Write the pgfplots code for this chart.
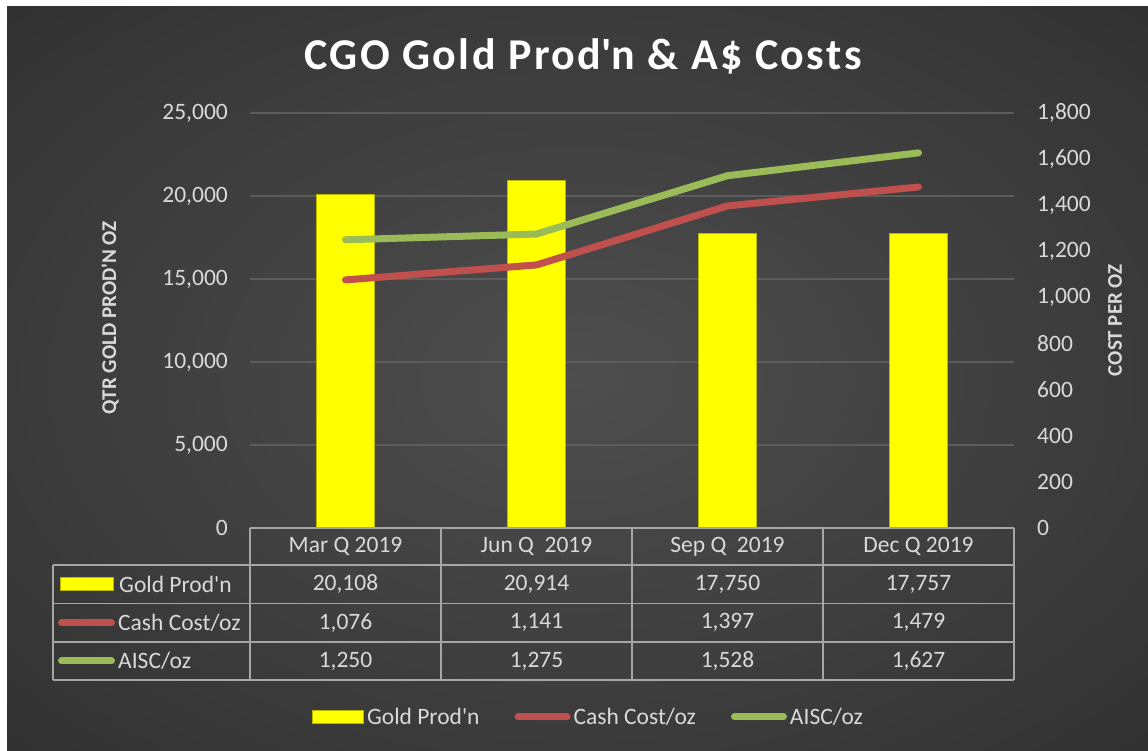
\documentclass[border=0pt]{standalone}
\usepackage{fontspec}
\setmainfont{Carlito}
\usepackage{pgfplots}
\usepackage{pgfplotstable}
\pgfplotsset{compat=1.18}

\definecolor{bgin}{HTML}{4E4E4E}
\definecolor{bgout}{HTML}{262626}
\definecolor{gridc}{HTML}{5C5C5C}
\definecolor{txt}{HTML}{D9D9D9}
\definecolor{tabline}{HTML}{A6A6A6}
\definecolor{cashc}{HTML}{C0504D}
\definecolor{aiscc}{HTML}{9BBB59}
\definecolor{goldc}{HTML}{FFFF00}
\definecolor{goldedge}{HTML}{B8B800}

\pgfdeclareradialshading{bgshade}{\pgfpoint{0bp}{0bp}}{color(0bp)=(bgin); color(50bp)=(bgout); color(72bp)=(bgout)}

\pgfplotstableread{
x gold cash aisc
0 20108 1076 1250
1 20914 1141 1275
2 17750 1397 1528
3 17757 1479 1627
}\datatable

\newcommand{\tickfont}{\fontsize{23.5}{28}\selectfont}
\newcommand{\q}{\textquotesingle}

\begin{document}
\begin{tikzpicture}[x=1pt,y=1pt]
\fill[white] (0,0) rectangle (1148,751);
\shade[shading=bgshade] (7,0) rectangle (1148,744);

% title
\node[anchor=base, text=white, font=\bfseries\fontsize{44}{52}\selectfont\addfontfeatures{LetterSpace=5.6}] at (583,681) {CGO Gold Prod\q n \& A\$ Costs};

\begin{axis}[
  at={(250pt,223pt)}, anchor=south west, scale only axis,
  width=764pt, height=415pt,
  xmin=-0.5, xmax=3.5, ymin=0, ymax=25000,
  axis x line=none, axis y line*=left,
  y axis line style={draw=none},
  major tick length=0pt,
  ytick={0,5000,...,25000}, xtick=\empty,
  scaled y ticks=false,
  ymajorgrids, grid style={gridc, line width=1.5pt},
  /pgf/number format/1000 sep={,},
  /pgf/number format/assume math mode=true,
  yticklabel style={font=\tickfont, text=txt, inner sep=0pt, anchor=east, xshift=-22pt},
  ylabel={QTR GOLD PROD\q N OZ},
  ylabel style={at={(axis description cs:-0.1830,0.507)}, anchor=center, text=txt, font=\bfseries\fontsize{21}{25}\selectfont},
]
\addplot[ybar, bar width=58pt, fill=goldc, draw=goldedge, line width=1pt] table[x=x,y=gold]{\datatable};
\end{axis}

\begin{axis}[
  at={(250pt,223pt)}, anchor=south west, scale only axis,
  width=764pt, height=415pt,
  xmin=-0.5, xmax=3.5, ymin=0, ymax=1800,
  axis x line=none, axis y line*=right,
  y axis line style={draw=none},
  major tick length=0pt,
  ytick={0,200,...,1800}, xtick=\empty,
  scaled y ticks=false,
  /pgf/number format/1000 sep={,},
  /pgf/number format/assume math mode=true,
  yticklabel style={font=\tickfont, text=txt, inner sep=0pt, anchor=west, xshift=23pt},
  ylabel={COST PER OZ},
  ylabel style={at={(axis description cs:1.1322,0.501)}, anchor=center, rotate=0, text=txt, font=\bfseries\fontsize{21}{25}\selectfont},
  legend columns=3,
  legend style={at={(axis description cs:0.4437,-0.4554)}, anchor=center, draw=none, fill=none,
    font=\tickfont, text=txt, column sep=0pt,
    /tikz/every even column/.append style={column sep=32pt},
    nodes={inner sep=3pt}},
]
\addlegendimage{legend image code/.code={\draw[fill=goldc, draw=goldedge, line width=1pt] (0pt,-6.5pt) rectangle (51pt,6.5pt);}}
\addlegendentry{Gold Prod\q n}
\addplot[cashc, line width=7pt, line join=round, line cap=round,
  legend image code/.code={\draw[cashc, line width=7pt, line cap=round] (3.5pt,0pt) -- (52.5pt,0pt);}]
  table[x=x,y=cash]{\datatable};
\addlegendentry{Cash Cost/oz}
\addplot[aiscc, line width=7pt, line join=round, line cap=round,
  legend image code/.code={\draw[aiscc, line width=7pt, line cap=round] (3.5pt,0pt) -- (52.5pt,0pt);}]
  table[x=x,y=aisc]{\datatable};
\addlegendentry{AISC/oz}
\end{axis}

% data table
\begin{scope}[draw=tabline, line width=1.5pt]
\draw (250,223) -- (1014,223);
\draw (53,186) -- (1014,186);
\draw (53,147.5) -- (1014,147.5);
\draw (53,109) -- (1014,109);
\draw (53,71) -- (1014,71);
\foreach \xx in {250,441,632,823,1014} \draw (\xx,223) -- (\xx,71);
\draw (53,186) -- (53,71);
\end{scope}

\begin{scope}[font=\tickfont, text=txt]
\node at (345.5,204.5) {Mar Q 2019};
\node at (536.5,204.5) {Jun Q~~2019};
\node at (727.5,204.5) {Sep Q~~2019};
\node at (918.5,204.5) {Dec Q 2019};
\node at (345.5,166.75) {20,108};
\node at (536.5,166.75) {20,914};
\node at (727.5,166.75) {17,750};
\node at (918.5,166.75) {17,757};
\node at (345.5,128.25) {1,076};
\node at (536.5,128.25) {1,141};
\node at (727.5,128.25) {1,397};
\node at (918.5,128.25) {1,479};
\node at (345.5,90) {1,250};
\node at (536.5,90) {1,275};
\node at (727.5,90) {1,528};
\node at (918.5,90) {1,627};
\node[anchor=west, inner sep=0pt] at (119,166.75) {Gold Prod\q n};
\node[anchor=west, inner sep=0pt] at (118,128.25) {Cash Cost/oz};
\node[anchor=west, inner sep=0pt] at (118,90) {AISC/oz};
\end{scope}
\draw[fill=goldc, draw=goldedge, line width=1pt] (60,160) rectangle (113,173);
\draw[cashc, line width=7pt, line cap=round] (61.5,128) -- (111.5,128);
\draw[aiscc, line width=7pt, line cap=round] (61.5,90) -- (111.5,90);
\end{tikzpicture}
\end{document}
